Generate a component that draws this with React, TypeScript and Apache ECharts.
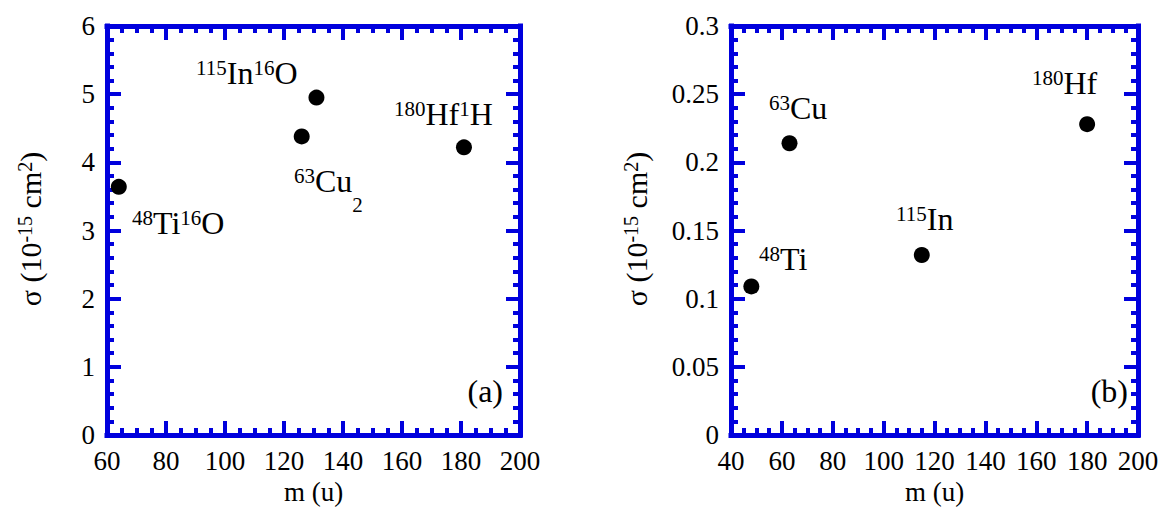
import React, { useEffect, useRef } from "react";
import * as echarts from "echarts";

// Panel (a): molecular ions
const massA = [64, 126, 131, 181];
const sigmaA = [3.64, 4.38, 4.95, 4.22];
// Panel (b): atomic ions
const massB = [48, 63, 115, 180];
const sigmaB = [0.109, 0.214, 0.132, 0.228];

const xTicksA = { min: 60, max: 200, interval: 20 };
const yTicksA = { min: 0, max: 6, interval: 1 };
const xTicksB = { min: 40, max: 200, interval: 20 };
const yTicksB = { min: 0, max: 0.3, interval: 0.05 };

const BLUE = "#0000dd";
const FONT = "'Liberation Serif', 'Times New Roman', Times, serif";

const richStyles = {
  m: { fontSize: 32, fontFamily: FONT, lineHeight: 38, verticalAlign: "top", fill: "#000" },
  s: { fontSize: 21, fontFamily: FONT, lineHeight: 16, verticalAlign: "top", fill: "#000" },
  b: { fontSize: 21, fontFamily: FONT, lineHeight: 16, verticalAlign: "top", padding: [29, 0, 0, 0], fill: "#000" },
};

const titleRich = {
  m: { fontSize: 30, fontFamily: FONT, lineHeight: 38, verticalAlign: "top", fill: "#000" },
  s: { fontSize: 20, fontFamily: FONT, lineHeight: 14, verticalAlign: "top", fill: "#000" },
};

function label(text: string, x: number, y: number, align = "left") {
  return {
    type: "text",
    x,
    y,
    silent: true,
    style: { text, align, verticalAlign: "top", rich: richStyles, fill: "#000", fontFamily: FONT },
  };
}

function axisX(r: { min: number; max: number; interval: number }, position: string, showLabel: boolean, gridIndex: number) {
  return {
    type: "value",
    gridIndex,
    position,
    min: r.min,
    max: r.max,
    interval: r.interval,
    name: showLabel ? "m (u)" : "",
    nameLocation: "middle",
    nameGap: 40,
    nameTextStyle: { fontSize: 27, fontFamily: FONT, color: "#000" },
    axisLine: { show: true, onZero: false, lineStyle: { color: BLUE, width: 5, cap: "square" } },
    axisTick: { show: true, inside: true, length: 14, lineStyle: { color: BLUE, width: 4 } },
    minorTick: { show: true, splitNumber: 4, length: 7, lineStyle: { color: BLUE, width: 4 } },
    splitLine: { show: false },
    axisLabel: { show: showLabel, margin: 12, fontSize: 27, fontFamily: FONT, color: "#000" },
  };
}

function axisY(r: { min: number; max: number; interval: number }, position: string, showLabel: boolean, gridIndex: number) {
  return {
    type: "value",
    gridIndex,
    position,
    min: r.min,
    max: r.max,
    interval: r.interval,
    axisLine: { show: true, onZero: false, lineStyle: { color: BLUE, width: 5, cap: "square" } },
    axisTick: { show: true, inside: true, length: 14, lineStyle: { color: BLUE, width: 4 } },
    minorTick: { show: true, splitNumber: 5, length: 7, lineStyle: { color: BLUE, width: 4 } },
    splitLine: { show: false },
    axisLabel: {
      show: showLabel,
      margin: 12,
      fontSize: 27,
      fontFamily: FONT,
      color: "#000",
      formatter: (v: number) => String(parseFloat(v.toFixed(3))),
    },
  };
}

function yTitle(x: number) {
  return {
    type: "text",
    x,
    y: 229,
    rotation: Math.PI / 2,
    silent: true,
    style: {
      text: "{m|σ (10}{s|-15}{m| cm}{s|2}{m|)}",
      align: "center",
      verticalAlign: "middle",
      rich: titleRich,
      fill: "#000",
      fontFamily: FONT,
    },
  };
}

export default function App() {
  const ref = useRef<HTMLDivElement>(null);
  useEffect(() => {
    if (!ref.current) return;
    const chart = echarts.init(ref.current, undefined, { renderer: "svg" });
    chart.setOption({
      animation: false,
      backgroundColor: "#fff",
      textStyle: { fontFamily: FONT },
      grid: [
        { left: 107, top: 26, width: 413, height: 409 },
        { left: 731, top: 26, width: 407, height: 409 },
      ],
      xAxis: [
        axisX(xTicksA, "bottom", true, 0),
        axisX(xTicksA, "top", false, 0),
        axisX(xTicksB, "bottom", true, 1),
        axisX(xTicksB, "top", false, 1),
      ],
      yAxis: [
        axisY(yTicksA, "left", true, 0),
        axisY(yTicksA, "right", false, 0),
        axisY(yTicksB, "left", true, 1),
        axisY(yTicksB, "right", false, 1),
      ],
      series: [
        {
          type: "scatter",
          xAxisIndex: 0,
          yAxisIndex: 0,
          symbol: "circle",
          symbolSize: 16,
          itemStyle: { color: "#000", opacity: 1 },
          data: massA.map((m, i) => [m, sigmaA[i]]),
        },
        {
          type: "scatter",
          xAxisIndex: 2,
          yAxisIndex: 2,
          symbol: "circle",
          symbolSize: 16,
          itemStyle: { color: "#000", opacity: 1 },
          data: massB.map((m, i) => [m, sigmaB[i]]),
        },
      ],
      graphic: [
        label("{s|115}{m|In}{s|16}{m|O}", 196, 57),
        label("{s|180}{m|Hf}{s|1}{m|H}", 394, 98),
        label("{s|63}{m|Cu}{b|2}", 294, 165),
        label("{s|48}{m|Ti}{s|16}{m|O}", 132, 207),
        label("{m|(a)}", 503, 375, "right"),
        label("{s|63}{m|Cu}", 769, 92),
        label("{s|180}{m|Hf}", 1032, 67),
        label("{s|115}{m|In}", 896, 203),
        label("{s|48}{m|Ti}", 759, 243),
        label("{m|(b)}", 1128, 375, "right"),
        yTitle(34),
        yTitle(640),
      ],
    });
    return () => chart.dispose();
  }, []);
  return (
    <div
      ref={ref}
      style={{ position: "fixed", left: 0, top: 0, width: 1176, height: 513, background: "#fff" }}
    />
  );
}
